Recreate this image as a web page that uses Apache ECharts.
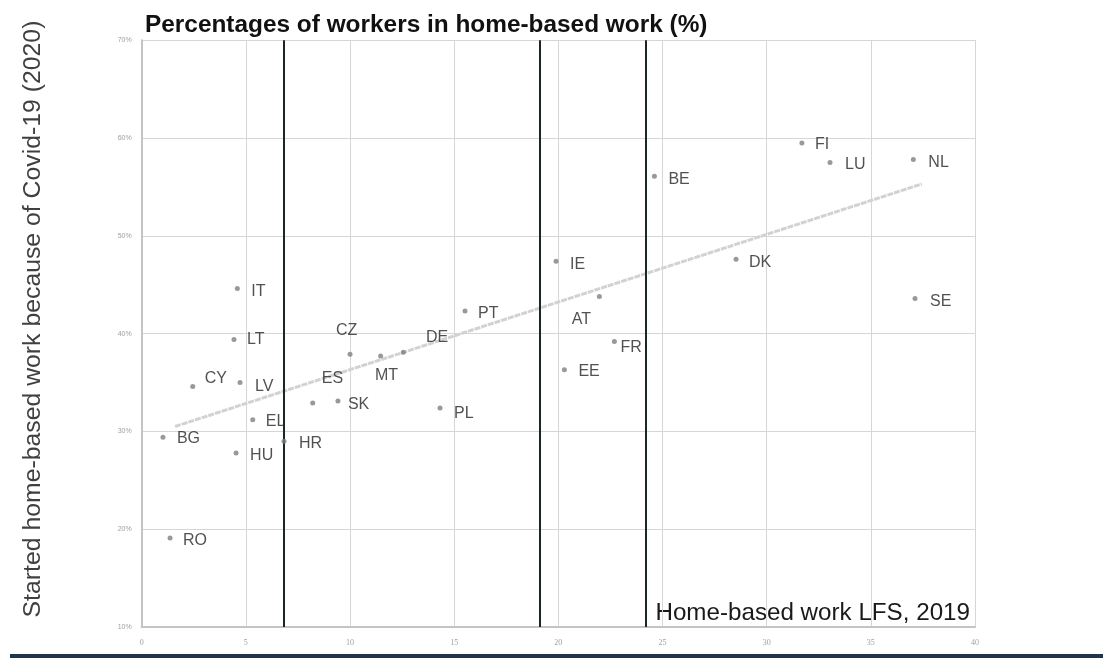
<!DOCTYPE html>
<html>
<head>
<meta charset="utf-8">
<script src="https://cdn.jsdelivr.net/npm/echarts@6/dist/echarts.min.js"></script>
<style>
  html, body { margin: 0; padding: 0; background: #ffffff; }
  #chart { width: 1103px; height: 658px; }
</style>
</head>
<body>
<div id="chart"></div>
<script>
// ---- data ----
const countries = ['RO','BG','CY','LV','LT','IT','EL','HU','HR','ES','SK','CZ','MT','DE','PL','PT','IE','AT','FR','EE','BE','DK','FI','LU','NL','SE'];
const homeWork2019 = [1.36,1.02,2.45,4.72,4.43,4.59,5.33,4.53,6.83,8.21,9.42,10.0,11.47,12.56,14.32,15.52,19.89,21.97,22.69,20.29,24.61,28.53,31.69,33.04,37.04,37.12];
const startedCovid2020 = [19.1,29.4,34.6,35.0,39.4,44.6,31.2,27.8,29.0,32.9,33.1,37.9,37.7,38.1,32.4,42.3,47.4,43.8,39.2,36.3,56.1,47.6,59.5,57.5,57.8,43.6];
const trendX = [1.6, 37.45];
const trendY = [30.5, 55.3];
const dividerX = [6.84, 19.12, 24.2];
const xTicks = [0, 5, 10, 15, 20, 25, 30, 35, 40];
const yTicks = [10, 20, 30, 40, 50, 60, 70];

// ---- label placement (style only) ----
const labelOffset = {
  RO:[10.5,3], BG:[11.5,1], CY:[9.5,-8], LV:[12.5,4], LT:[10.5,0], IT:[11.5,3],
  EL:[10.5,2], HU:[11.5,3], HR:[12.5,2], ES:[6.5,-24], SK:[7.5,4], CZ:[-16.5,-24],
  MT:[-8.2,19], DE:[20.2,-15], PL:[11.5,6], PT:[10.5,2], IE:[11.5,3], AT:[-30.1,23],
  FR:[3.5,6], EE:[11.5,2], BE:[11.5,3], DK:[10.5,3], FI:[10.5,2], LU:[12.5,2],
  NL:[12.5,3], SE:[12.5,3]
};

const points = countries.map((c, i) => ({
  name: c,
  value: [homeWork2019[i], startedCovid2020[i]],
  label: { offset: labelOffset[c] || [11.5, 3] }
}));

const chart = echarts.init(document.getElementById('chart'), null, { renderer: 'canvas' });

const option = {
  backgroundColor: '#ffffff',
  animation: false,
  grid: { left: 141.7, right: 128, top: 40.2, bottom: 31, containLabel: false },
  xAxis: {
    type: 'value', min: xTicks[0], max: xTicks[xTicks.length - 1], interval: 5,
    axisLine: { show: true, onZero: false, lineStyle: { color: '#c4c4c4', width: 2 } },
    axisTick: { show: false },
    axisLabel: { color: '#a0a0a0', fontSize: 8, margin: 12, fontFamily: 'Liberation Serif' },
    splitLine: { show: true, lineStyle: { color: '#d6d6d6', width: 1 } }
  },
  yAxis: {
    type: 'value', min: yTicks[0], max: yTicks[yTicks.length - 1], interval: 10,
    axisLine: { show: true, onZero: false, lineStyle: { color: '#c4c4c4', width: 2 } },
    axisTick: { show: false },
    axisLabel: { color: '#a0a0a0', fontSize: 7, margin: 10, formatter: '{value}%', fontFamily: 'Liberation Sans' },
    splitLine: { show: true, lineStyle: { color: '#d6d6d6', width: 1 } }
  },
  series: [
    {
      type: 'line',
      data: trendX.map((x, i) => [x, trendY[i]]),
      symbol: 'none',
      lineStyle: { color: '#d2d2d2', width: 3, type: [6, 1] },
      z: 2,
      markLine: {
        silent: true,
        symbol: 'none',
        label: { show: false },
        lineStyle: { color: '#1d2626', width: 2, type: 'solid' },
        data: dividerX.map(x => ({ xAxis: x }))
      }
    },
    {
      type: 'scatter',
      data: points,
      symbol: 'circle',
      symbolSize: 5,
      itemStyle: { color: '#808080' },
      z: 5,
      label: {
        show: true,
        position: 'right',
        distance: 0,
        formatter: p => p.name,
        color: '#262626',
        fontSize: 16,
        fontFamily: 'Liberation Sans'
      }
    }
  ],
  graphic: [
    {
      type: 'text', x: 145, y: 25.5,
      style: { text: 'Percentages of workers in home-based work (%)', font: 'bold 24.4px "Liberation Sans"', fill: '#111111', align: 'left', verticalAlign: 'middle' }
    },
    {
      type: 'text', x: 33, y: 319, rotation: Math.PI / 2,
      style: { text: 'Started home-based work because of Covid-19 (2020)', font: '24.8px "Liberation Sans"', fill: '#404040', align: 'center', verticalAlign: 'middle' }
    },
    {
      type: 'text', x: 970, y: 613,
      style: { text: 'Home-based work LFS, 2019', font: '24.2px "Liberation Sans"', fill: '#1a1a1a', align: 'right', verticalAlign: 'middle' }
    },
    {
      type: 'rect', shape: { x: 10, y: 654, width: 1093, height: 4 },
      style: { fill: '#22344d' }
    }
  ]
};

chart.setOption(option);
</script>
</body>
</html>
